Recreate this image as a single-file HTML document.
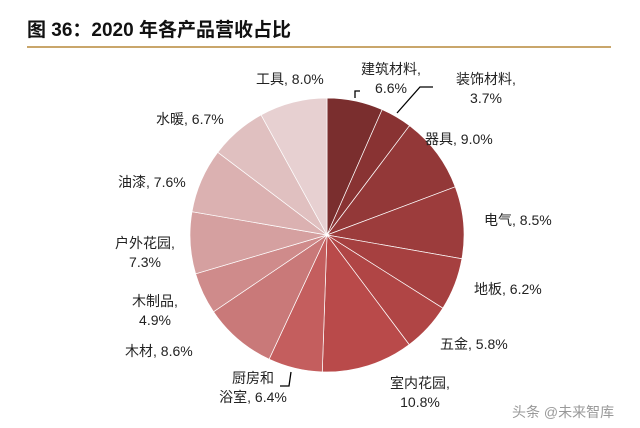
<!DOCTYPE html>
<html><head><meta charset="utf-8"><style>
body{margin:0;background:#fff;width:640px;height:428px;overflow:hidden;position:relative;font-family:"Liberation Sans","Noto Sans CJK SC",sans-serif;}
.t{position:absolute;font-size:14px;color:#222;line-height:19px;white-space:nowrap}
.c{text-align:center}
</style></head><body>
<div style="position:absolute;left:27px;top:15px;font-size:19px;font-weight:bold;color:#111;font-family:'Liberation Sans','Noto Sans CJK SC',sans-serif">图 36：2020 年各产品营收占比</div>
<div style="position:absolute;left:27px;top:46px;width:584px;height:2px;background:#c9a66b"></div>
<svg id="s" width="640" height="428" style="position:absolute;left:0;top:0"></svg>
<div class="t" style="left:256px;top:70px">工具, 8.0%</div>
<div class="t c" style="left:356px;top:60px;width:70px">建筑材料,<br>6.6%</div>
<div class="t c" style="left:446px;top:70px;width:80px">装饰材料,<br>3.7%</div>
<div class="t" style="left:425px;top:130px">器具, 9.0%</div>
<div class="t" style="left:484px;top:211px">电气, 8.5%</div>
<div class="t" style="left:474px;top:280px">地板, 6.2%</div>
<div class="t" style="left:440px;top:335px">五金, 5.8%</div>
<div class="t c" style="left:380px;top:374px;width:80px">室内花园,<br>10.8%</div>
<div class="t c" style="left:218px;top:369px;width:70px">厨房和<br>浴室, 6.4%</div>
<div class="t" style="left:125px;top:342px">木材, 8.6%</div>
<div class="t c" style="left:120px;top:292px;width:70px">木制品,<br>4.9%</div>
<div class="t c" style="left:110px;top:234px;width:70px">户外花园,<br>7.3%</div>
<div class="t" style="left:118px;top:173px">油漆, 7.6%</div>
<div class="t" style="left:156px;top:110px">水暖, 6.7%</div>
<div style="position:absolute;left:512px;top:402px;font-size:14px;color:#999;font-family:'Liberation Sans','Noto Sans CJK SC',sans-serif">头条 @未来智库</div>
<script>
var v=[6.6,3.7,9.0,8.5,6.2,5.8,10.8,6.4,8.6,4.9,7.3,7.6,6.7,8.0];
var col=["#7a2e2e","#893333","#933838","#9c3c3c","#a64040","#b04545","#b94a4a","#c45e5e","#c97979","#cf8b8b","#d5a0a0","#dbb1b1","#e0c0c0","#e7d0d1"];
var cx=327,cy=235,R=137,tot=v.reduce((a,b)=>a+b),a=0,s="";
for(var i=0;i<v.length;i++){var a2=a+v[i]/tot*2*Math.PI;
var x1=cx+R*Math.sin(a),y1=cy-R*Math.cos(a),x2=cx+R*Math.sin(a2),y2=cy-R*Math.cos(a2);
s+='<path d="M'+cx+','+cy+'L'+x1+','+y1+'A'+R+','+R+' 0 '+((a2-a)>Math.PI?1:0)+' 1 '+x2+','+y2+'Z" fill="'+col[i]+'" stroke="#fff" stroke-width="0.7"/>';a=a2;}
s+='<polyline points="355,98 355,91 360,91" fill="none" stroke="#000" stroke-width="1.3"/>';
s+='<polyline points="397,113 420,87 433,87" fill="none" stroke="#000" stroke-width="1.3"/>';
s+='<polyline points="280,386 289,386 291,372" fill="none" stroke="#000" stroke-width="1.3"/>';
document.getElementById("s").innerHTML=s;
</script>
</body></html>
